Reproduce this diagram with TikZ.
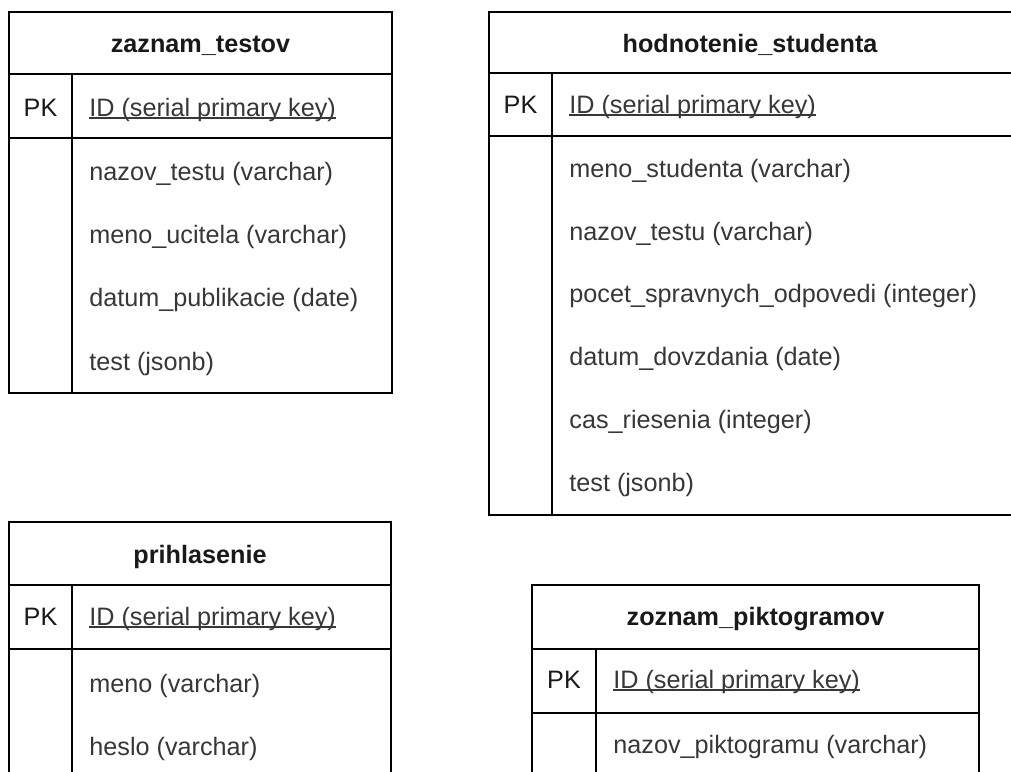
\documentclass[tikz,border=0pt]{standalone}
\usepackage{fontspec}
\setmainfont{Liberation Sans}
\definecolor{fieldgray}{RGB}{55,55,55}
\definecolor{titlegray}{RGB}{25,25,25}
\newlength\myulwd
\newcommand\myul[1]{\settowidth\myulwd{#1}\rlap{\rule[-1.4pt]{\myulwd}{0.8pt}}#1}
\tikzset{
  tline/.style={line width=1pt, draw=black},
  ttitle/.style={font=\fontsize{12.6}{15}\selectfont\bfseries, text=titlegray, anchor=base, inner sep=0pt},
  tpk/.style={font=\fontsize{12.6}{15}\selectfont, text=titlegray, anchor=base, inner sep=0pt},
  tfield/.style={font=\fontsize{12.6}{15}\selectfont, text=fieldgray, anchor=base west, inner sep=0pt},
}
\begin{document}
\begin{tikzpicture}[x=0.5pt,y=-0.5pt]
\useasboundingbox (0,0) rectangle (1011,771);
\clip (0,0) rectangle (1011,771);

% ---- zaznam_testov
\draw[tline] (9,12) rectangle (392,393);
\draw[tline] (9,74) -- (392,74);
\draw[tline] (9,138) -- (392,138);
\draw[tline] (72,74) -- (72,393);
\node[ttitle] (t1title) at (200.5,52) {zaznam\_testov};
\node[tpk] (t1pk) at (40.5,116) {PK};
\node[tfield] (t1id) at (89,116) {\myul{ID (serial primary key)}};
\node[tfield] (t1f1) at (89,180) {nazov\_testu (varchar)};
\node[tfield] (t1f2) at (89,243) {meno\_ucitela (varchar)};
\node[tfield] (t1f3) at (89,306) {datum\_publikacie (date)};
\node[tfield] (t1f4) at (89,370) {test (jsonb)};

% ---- hodnotenie_studenta
\draw[tline] (489,12) rectangle (1014,515);
\draw[tline] (489,73) -- (1014,73);
\draw[tline] (489,136) -- (1014,136);
\draw[tline] (552,73) -- (552,515);
\node[ttitle] (t2title) at (750,52) {hodnotenie\_studenta};
\node[tpk] (t2pk) at (520.5,113) {PK};
\node[tfield] (t2id) at (569,113) {\myul{ID (serial primary key)}};
\node[tfield] (t2f1) at (569,177) {meno\_studenta (varchar)};
\node[tfield] (t2f2) at (569,240) {nazov\_testu (varchar)};
\node[tfield] (t2f3) at (569,302) {pocet\_spravnych\_odpovedi (integer)};
\node[tfield] (t2f4) at (569,365) {datum\_dovzdania (date)};
\node[tfield] (t2f5) at (569,428) {cas\_riesenia (integer)};
\node[tfield] (t2f6) at (569,491) {test (jsonb)};

% ---- prihlasenie
\draw[tline] (9,780) -- (9,522) -- (391,522) -- (391,780);
\draw[tline] (9,585) -- (391,585);
\draw[tline] (9,649) -- (391,649);
\draw[tline] (72,585) -- (72,780);
\node[ttitle] (t3title) at (200,563) {prihlasenie};
\node[tpk] (t3pk) at (40.5,625) {PK};
\node[tfield] (t3id) at (89,625) {\myul{ID (serial primary key)}};
\node[tfield] (t3f1) at (89,692) {meno (varchar)};
\node[tfield] (t3f2) at (89,755) {heslo (varchar)};

% ---- zoznam_piktogramov
\draw[tline] (532,780) -- (532,585) -- (979,585) -- (979,780);
\draw[tline] (532,649) -- (979,649);
\draw[tline] (532,713) -- (979,713);
\draw[tline] (596,649) -- (596,780);
\node[ttitle] (t4title) at (755.5,625) {zoznam\_piktogramov};
\node[tpk] (t4pk) at (564,688) {PK};
\node[tfield] (t4id) at (613,688) {\myul{ID (serial primary key)}};
\node[tfield] (t4f1) at (613,753) {nazov\_piktogramu (varchar)};
\end{tikzpicture}
\end{document}
